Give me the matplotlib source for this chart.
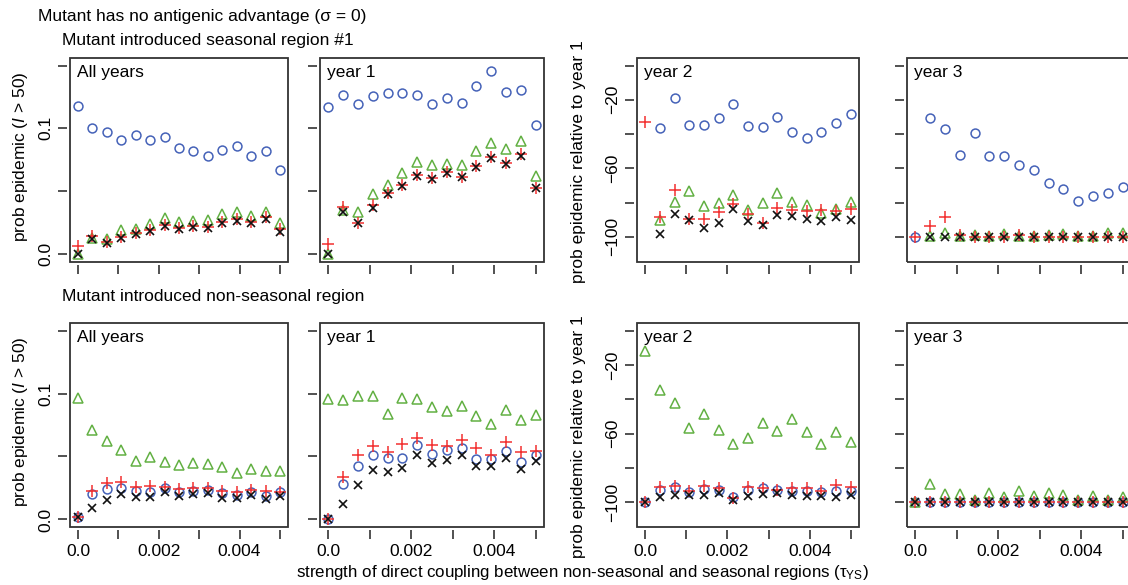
import numpy as np
import matplotlib
matplotlib.use('Agg')
import matplotlib.pyplot as plt
from matplotlib.patches import Rectangle

plt.rcParams['font.family'] = ['Liberation Sans', 'DejaVu Sans']
plt.rcParams['mathtext.fontset'] = 'custom'
plt.rcParams['mathtext.rm'] = 'Liberation Sans'
plt.rcParams['mathtext.it'] = 'Liberation Sans:italic'

nan = np.nan

# coupling strength tau_YS
tau = [0.0, 0.000357, 0.000714, 0.001071, 0.001429, 0.001786, 0.002143, 0.0025,
       0.002857, 0.003214, 0.003571, 0.003929, 0.004286, 0.004643, 0.005]

# mutant introduced seasonal region #1
seas_all_circle = [0.118, 0.100, 0.097, 0.091, 0.095, 0.091, 0.093, 0.084, 0.082, 0.078, 0.083, 0.086, 0.078, 0.082, 0.067]
seas_all_tri = [0.0, 0.0126, 0.0123, 0.0193, 0.0201, 0.0241, 0.0287, 0.0255, 0.0265, 0.0268, 0.0322, 0.0332, 0.0300, 0.0335, 0.0247]
seas_all_plus = [0.0067, 0.0145, 0.0099, 0.0139, 0.0166, 0.0193, 0.0233, 0.0206, 0.0220, 0.0214, 0.0252, 0.0279, 0.0257, 0.0292, 0.0198]
seas_all_cross = [0.0, 0.0118, 0.0091, 0.0131, 0.0158, 0.0180, 0.0225, 0.0201, 0.0212, 0.0209, 0.0244, 0.0265, 0.0244, 0.0279, 0.0177]

seas_y1_circle = [0.1172, 0.1263, 0.1196, 0.1255, 0.1279, 0.1279, 0.1265, 0.1196, 0.1244, 0.1199, 0.1340, 0.1456, 0.1289, 0.1305, 0.1027]
seas_y1_tri = [0.0, 0.0350, 0.0334, 0.0477, 0.0546, 0.0642, 0.0729, 0.0708, 0.0714, 0.0708, 0.0817, 0.0881, 0.0833, 0.0902, 0.0623]
seas_y1_plus = [0.0080, 0.0377, 0.0249, 0.0390, 0.0488, 0.0549, 0.0629, 0.0602, 0.0653, 0.0615, 0.0700, 0.0769, 0.0721, 0.0796, 0.0523]
seas_y1_cross = [0.0, 0.0337, 0.0249, 0.0363, 0.0477, 0.0541, 0.0621, 0.0594, 0.0642, 0.0610, 0.0695, 0.0761, 0.0714, 0.0780, 0.0523]

seas_y2_circle = [nan, -36.2, -19.2, -34.9, -34.5, -30.6, -22.3, -35.3, -35.7, -30.2, -38.8, -42.2, -39.0, -33.3, -28.3]
seas_y2_tri = [nan, -89.9, -79.7, -73.4, -82.2, -80.2, -75.8, -84.5, -80.2, -74.4, -79.7, -81.4, -86.0, -83.7, -79.7]
seas_y2_plus = [-33.1, -88.4, -72.9, -89.3, -89.3, -85.5, -80.6, -86.8, -91.9, -82.9, -84.5, -84.9, -84.5, -85.1, -83.5]
seas_y2_cross = [nan, -98.1, -86.4, -89.9, -94.8, -91.9, -83.5, -90.9, -93.2, -87.4, -87.8, -89.3, -90.7, -88.4, -89.9]

seas_y3_circle = [-100, -30.6, -37.0, -52.1, -39.3, -53.1, -52.7, -57.8, -61.0, -68.8, -71.9, -79.1, -76.0, -74.2, -71.1]
seas_y3_tri = [nan, -99.5, -97.5, -99.5, -99.0, -99.5, -98.5, -99.5, -99.5, -99.0, -98.5, -99.5, -99.5, -97.5, -97.5]
seas_y3_plus = [-100, -93.8, -88.4, -99.0, -100, -100, -100, -99.0, -100, -100, -100, -100, -100, -100, -100]
seas_y3_cross = [nan, -100, -100, -100, -100, -100, -100, -100, -100, -100, -100, -100, -100, -100, -100]

# mutant introduced non-seasonal region
non_all_circle = [0.0019, 0.0202, 0.0243, 0.0253, 0.0229, 0.0221, 0.0248, 0.0216, 0.0229, 0.0235, 0.0210, 0.0194, 0.0216, 0.0189, 0.0216]
non_all_tri = [0.0962, 0.0709, 0.0625, 0.0553, 0.0466, 0.0493, 0.0458, 0.0431, 0.0445, 0.0437, 0.0418, 0.0369, 0.0399, 0.0383, 0.0385]
non_all_plus = [0.0019, 0.0229, 0.0291, 0.0296, 0.0261, 0.0264, 0.0261, 0.0243, 0.0248, 0.0248, 0.0229, 0.0221, 0.0237, 0.0224, 0.0221]
non_all_cross = [0.0019, 0.0092, 0.0156, 0.0199, 0.0181, 0.0181, 0.0216, 0.0189, 0.0202, 0.0208, 0.0170, 0.0170, 0.0191, 0.0162, 0.0183]

non_y1_circle = [0.0, 0.0284, 0.0427, 0.0509, 0.0491, 0.0488, 0.0594, 0.0523, 0.0554, 0.0568, 0.0483, 0.0483, 0.0544, 0.0456, 0.0509]
non_y1_tri = [0.0955, 0.0947, 0.0979, 0.0981, 0.0841, 0.0968, 0.0955, 0.0889, 0.0862, 0.0902, 0.0820, 0.0756, 0.0873, 0.0793, 0.0833]
non_y1_plus = [0.0, 0.0337, 0.0515, 0.0584, 0.0536, 0.0602, 0.0647, 0.0589, 0.0584, 0.0634, 0.0568, 0.0515, 0.0615, 0.0536, 0.0544]
non_y1_cross = [0.0, 0.0119, 0.0276, 0.0390, 0.0377, 0.0408, 0.0509, 0.0451, 0.0475, 0.0509, 0.0422, 0.0422, 0.0488, 0.0403, 0.0462]

non_y2_circle = [-100, -92.8, -91.3, -93.8, -92.2, -92.8, -96.7, -92.8, -91.7, -92.6, -93.2, -93.6, -94.2, -93.6, -93.2]
non_y2_tri = [-12.0, -34.9, -42.3, -56.9, -48.5, -57.9, -66.0, -62.7, -54.0, -58.3, -51.5, -59.2, -66.0, -59.2, -65.0]
non_y2_plus = [-100, -91.3, -90.3, -93.2, -90.3, -91.7, -97.5, -90.9, -91.8, -92.6, -91.8, -91.8, -93.2, -89.9, -91.3]
non_y2_cross = [-100, -97.1, -95.5, -95.7, -95.5, -94.8, -98.4, -96.5, -95.1, -94.8, -95.7, -96.1, -96.5, -97.1, -95.5]

non_y3_circle = [-100] * 15
non_y3_tri = [-100, -89.3, -95.1, -95.1, -98.6, -94.8, -96.7, -93.6, -96.1, -94.8, -95.7, -98.6, -96.1, -98.6, -96.7]
non_y3_plus = [-100] * 15
non_y3_cross = [-100] * 15

panel_names = ["All years", "year 1", "year 2", "year 3"]

panels = [
    [(seas_all_circle, seas_all_tri, seas_all_plus, seas_all_cross),
     (seas_y1_circle, seas_y1_tri, seas_y1_plus, seas_y1_cross),
     (seas_y2_circle, seas_y2_tri, seas_y2_plus, seas_y2_cross),
     (seas_y3_circle, seas_y3_tri, seas_y3_plus, seas_y3_cross)],
    [(non_all_circle, non_all_tri, non_all_plus, non_all_cross),
     (non_y1_circle, non_y1_tri, non_y1_plus, non_y1_cross),
     (non_y2_circle, non_y2_tri, non_y2_plus, non_y2_cross),
     (non_y3_circle, non_y3_tri, non_y3_plus, non_y3_cross)],
]

W, H = 1128, 585
fig = plt.figure(figsize=(W / 100, H / 100), dpi=100)

cols = [(70, 288), (320, 544), (637, 859), (907, 1131)]
rows = [(58, 261.5), (323, 527)]

BLUE = '#4562b8'
GREEN = '#62b043'
RED = '#f23030'
BLACK = '#111111'
FS = 12.5

for r, (top, bot) in enumerate(rows):
    for c, (left, right) in enumerate(cols):
        ax = fig.add_axes([left / W, 1 - bot / H, (right - left) / W, (bot - top) / H])
        # spines first: moving them rebuilds the ticks
        for s in ax.spines.values():
            s.set_color('none')
        ax.spines['left'].set_position(('outward', 2.5))
        ax.spines['bottom'].set_position(('outward', 2.5))

        circ, tri, plus, cross = panels[r][c]
        ax.plot(tau, circ, 'o', ms=6.4, mfc='none', mec=BLUE, mew=1.1, zorder=3)
        ax.plot(tau, tri, '^', ms=7, mfc='none', mec=GREEN, mew=1.1, zorder=3)
        ax.plot(tau, plus, '+', ms=8, mec=RED, mew=1.1, zorder=4)
        ax.plot(tau, cross, 'x', ms=5.5, mec=BLACK, mew=1.2, zorder=5)

        ax.set_xlim(-0.0002, 0.0052)
        ax.set_xticks([0, 0.001, 0.002, 0.003, 0.004, 0.005])
        if r == 1:
            ax.set_xticklabels(['0.0', '', '0.002', '', '0.004', ''], fontsize=FS)
        else:
            ax.set_xticklabels([])

        if c < 2:
            ax.set_ylim(-0.006, 0.156)
            ax.set_yticks([0, 0.05, 0.1, 0.15])
            labs = ['0.0', '', '0.1', '']
        else:
            ax.set_ylim(-114.4, 4.4)
            ax.set_yticks([0, -20, -40, -60, -80, -100])
            labs = ['', '\u221220', '', '\u221260', '', '\u2212100']
        if c in (0, 2):
            ax.set_yticklabels(labs, rotation=90, va='center', fontsize=FS)
        else:
            ax.set_yticklabels([])

        ax.tick_params(direction='out', length=6.5, width=1.2, color='#333333', pad=3)
        ax.tick_params(axis='y', pad=3)
        ax.add_patch(Rectangle((0, 0), 1, 1, transform=ax.transAxes, fill=False,
                               lw=1.3, ec='#333333', clip_on=False, zorder=6))
        ax.text(0.03, 0.965, panel_names[c], transform=ax.transAxes,
                ha='left', va='top', fontsize=FS)

fig.text(38 / W, 1 - 17 / H, 'Mutant has no antigenic advantage (\u03c3 = 0)', fontsize=FS, va='center')
fig.text(62 / W, 1 - 41 / H, 'Mutant introduced seasonal region #1', fontsize=FS, va='center')
fig.text(62 / W, 1 - 297 / H, 'Mutant introduced non-seasonal region', fontsize=FS, va='center')

for yc in (157, 422):
    fig.text(21 / W, 1 - yc / H, r'prob epidemic ($\mathit{I}$ > 50)', rotation=90,
             ha='center', va='center', fontsize=FS)
for yc in (162, 437):
    fig.text(579 / W, 1 - yc / H, 'prob epidemic relative to year 1', rotation=90,
             ha='center', va='center', fontsize=FS)

fig.text(582 / W, 1 - 573 / H,
         'strength of direct coupling between non-seasonal and seasonal regions (\u03c4$_{\\mathrm{YS}}$)',
         ha='center', va='center', fontsize=12.2)

fig.savefig('out.png', dpi=100)
